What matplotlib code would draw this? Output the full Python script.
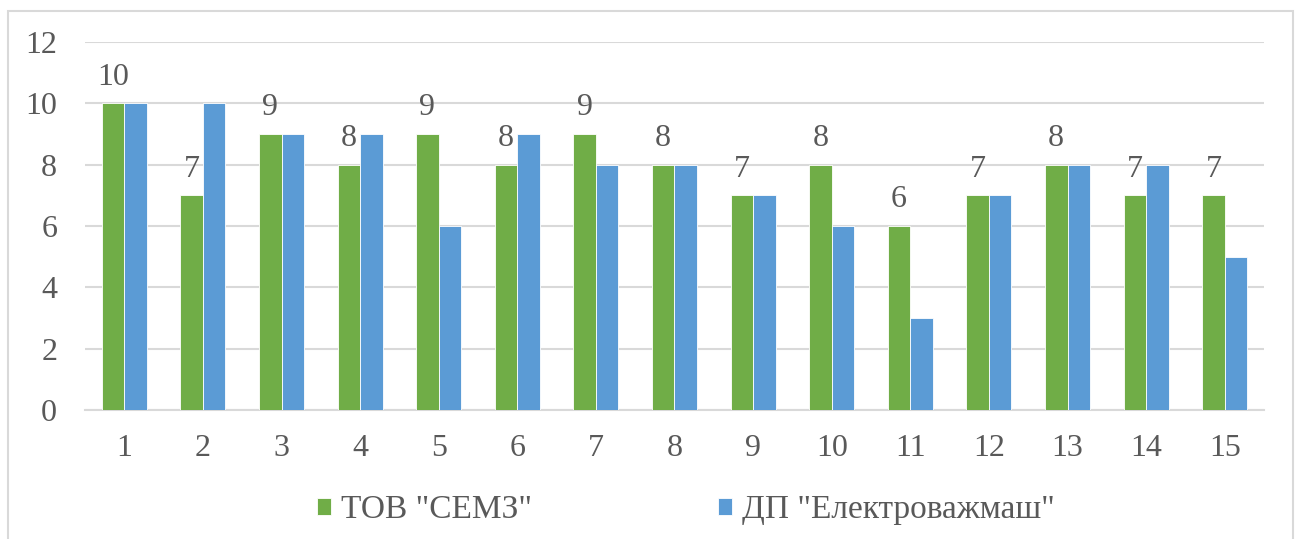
import matplotlib.pyplot as plt
import numpy as np
from matplotlib.patches import Rectangle

categories = [str(i) for i in range(1, 16)]
semz = [10, 7, 9, 8, 9, 8, 9, 8, 7, 8, 6, 7, 8, 7, 7]
elektro = [10, 10, 9, 9, 6, 9, 8, 8, 7, 6, 3, 7, 8, 8, 5]
series_names = ['ТОВ "СЕМЗ"', 'ДП "Електроважмаш"']
y_ticks = [0, 2, 4, 6, 8, 10, 12]

plt.rcParams['font.family'] = ['Liberation Serif', 'DejaVu Serif']
text_color = '#595959'
green = '#70AD47'
blue = '#5B9BD5'
fs = 23

W, H = 1299, 539
fig = plt.figure(figsize=(W / 100, H / 100), dpi=100)
ax = fig.add_axes([85 / W, 1 - 410 / H, (1264 - 85) / W, (410 - 42) / H])

x = np.arange(len(categories))
bw = 0.287
ax.bar(x - bw / 2, semz, bw, color=green, edgecolor='white', linewidth=0.6, zorder=3, label=series_names[0])
ax.bar(x + bw / 2, elektro, bw, color=blue, edgecolor='white', linewidth=0.6, zorder=3, label=series_names[1])

for xi, v in zip(x, semz):
    ax.text(xi - bw / 2, v + 0.38, str(v), ha='center', va='bottom', fontsize=fs, color=text_color)

ax.set_xlim(-0.5, len(categories) - 0.5)
ax.set_ylim(0, 12)
ax.set_yticks(y_ticks)
ax.set_yticklabels([str(t) for t in y_ticks], fontsize=fs, color=text_color)
ax.set_xticks(x)
ax.set_xticklabels(categories, fontsize=fs, color=text_color)
ax.tick_params(axis='both', length=0)
ax.tick_params(axis='y', pad=20)
ax.tick_params(axis='x', pad=17)
ax.yaxis.grid(True, color='#D9D9D9', linewidth=1.5, zorder=0)
ax.set_axisbelow(True)
for s in ['top', 'right', 'left']:
    ax.spines[s].set_visible(False)
ax.spines['bottom'].set_color('#D9D9D9')
ax.spines['bottom'].set_linewidth(1.5)

fig.legend(loc='center', bbox_to_anchor=(686 / W, 1 - 510 / H), ncol=2, frameon=False,
           fontsize=24, labelcolor=text_color, handlelength=0.4, handleheight=0.4,
           handletextpad=0.3, columnspacing=5.6)

fig.patches.append(Rectangle((8 / W, -0.05), (1293 - 8) / W, 1.05 - 11 / H,
                             transform=fig.transFigure, fill=False,
                             edgecolor='#D9D9D9', linewidth=1.5))

fig.savefig('out.png', dpi=100)
